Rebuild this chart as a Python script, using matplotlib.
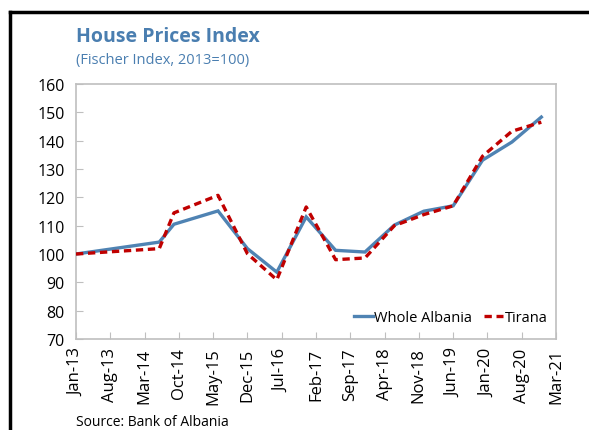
import matplotlib.pyplot as plt
import pandas as pd
from matplotlib.lines import Line2D

dates = ["2013-01", "2014-06", "2014-09", "2015-06", "2015-12", "2016-06",
         "2016-12", "2017-06", "2017-12", "2018-06", "2018-12", "2019-06",
         "2019-12", "2020-06", "2020-12"]
whole_albania = [100.0, 104.2, 110.5, 115.2, 101.9, 93.6, 113.1, 101.3,
                 100.7, 110.2, 115.1, 117.0, 133.1, 139.5, 148.3]
tirana = [100.0, 101.9, 114.5, 120.7, 100.1, 90.9, 116.6, 98.0,
          98.6, 110.0, 113.9, 117.0, 134.5, 143.3, 146.5]
tick_labels = ["Jan-13", "Aug-13", "Mar-14", "Oct-14", "May-15", "Dec-15",
               "Jul-16", "Feb-17", "Sep-17", "Apr-18", "Nov-18", "Jun-19",
               "Jan-20", "Aug-20", "Mar-21"]

blue = "#4F83B3"
red = "#C00000"
title_col = "#4A7EB0"
grey = "#BFBFBF"

plt.rcParams['font.family'] = ['Open Sans', 'DejaVu Sans']

# convert dates to months since Jan-13
d = pd.to_datetime(dates)
months = (d.year - 2013) * 12 + (d.month - 1)

fig = plt.figure(figsize=(5.89, 4.31), dpi=100)
ax = fig.add_axes([0.129, 0.211, 0.815, 0.592])

ax.plot(months, whole_albania, color=blue, lw=2.4, solid_joinstyle="miter", zorder=3)
ax.plot(months, tirana, color=red, lw=2.4, dashes=(2.2, 1.4), zorder=4)

ax.set_xlim(0, 98)
ax.set_ylim(70, 160)
ax.set_xticks(range(0, 99, 7))
ax.set_xticklabels(tick_labels, rotation=90, fontsize=12)
ax.set_yticks(range(70, 161, 10))
ax.tick_params(axis="y", labelsize=11.5, direction="in", length=5, color=grey, pad=8)
ax.tick_params(axis="x", direction="in", length=5, color=grey, pad=6)
for s in ax.spines.values():
    s.set_color(grey)
    s.set_linewidth(1.2)

# Legend
handles = [Line2D([], [], color=blue, lw=2.4),
           Line2D([], [], color=red, lw=2.4, dashes=(2.2, 1.4))]
ax.legend(handles, ["Whole Albania", "Tirana"], loc="lower right", ncol=2,
          frameon=False, fontsize=10.5, handlelength=1.3, handletextpad=0.1,
          columnspacing=0.8, bbox_to_anchor=(1.0, 0.02), borderaxespad=0.2)

# Titles and source
fig.text(0.129, 0.915, "House Prices Index", color=title_col, fontsize=14,
         fontweight="bold", ha="left", va="center")
fig.text(0.129, 0.86, "(Fischer Index, 2013=100)", color=title_col, fontsize=10.5,
         ha="left", va="center")
fig.text(0.129, 0.02, "Source: Bank of Albania", color="black", fontsize=10,
         ha="left", va="center")

# Black frame (top and left edges visible)
fig.add_artist(Line2D([0.017, 1.0], [0.97, 0.97], color="black", lw=2.5,
                      transform=fig.transFigure))
fig.add_artist(Line2D([0.017, 0.017], [0.0, 0.97], color="black", lw=2.5,
                      transform=fig.transFigure))

fig.savefig("out.png", dpi=100)
